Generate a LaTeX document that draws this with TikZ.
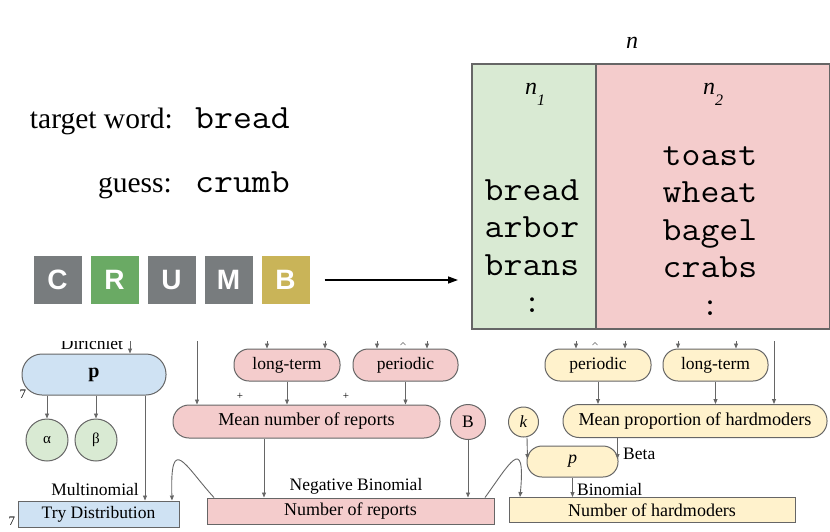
\documentclass[tikz,border=0pt]{standalone}
\usepackage{fontspec}
\setmainfont{Liberation Serif}
\newfontfamily\tilef{Liberation Sans}
\usetikzlibrary{arrows.meta}
\definecolor{wgray}{HTML}{787C7E}
\definecolor{wgreen}{HTML}{6AAA64}
\definecolor{wyellow}{HTML}{C9B458}
\definecolor{lgreen}{HTML}{D9EAD3}
\definecolor{lpink}{HTML}{F4CCCC}
\definecolor{lblue}{HTML}{CFE2F3}
\definecolor{lyellow}{HTML}{FFF2CC}
\definecolor{edgec}{HTML}{666666}
\newcommand\mw[1]{\scalebox{1.08}[1]{#1}}
\tikzset{
  tile/.style={minimum width=48pt, minimum height=48pt, inner sep=0pt, text=white,
    font=\tilef\bfseries\fontsize{28}{28}\selectfont},
  mono/.style={font=\ttfamily\fontsize{34}{34}\selectfont, anchor=base, inner sep=0pt},
  lbl/.style={font=\fontsize{17.5}{20}\selectfont},
  small/.style={font=\fontsize{17.5}{20}\selectfont, inner sep=0pt},
  pill/.style={draw=edgec, line width=1pt, rounded corners=15pt, inner sep=0pt, lbl,
    minimum height=32pt},
  flatbox/.style={draw=edgec, line width=1pt, inner sep=0pt, lbl},
  circ/.style={circle, draw=edgec, line width=1pt, inner sep=0pt},
  arr/.style={draw=edgec, line width=0.9pt, -{Triangle[length=5pt,width=4pt]}},
  bigarr/.style={draw=black, line width=1.4pt, -{Triangle[length=10pt,width=7pt]}},
}
\begin{document}
\begin{tikzpicture}[x=1pt,y=-1pt]
\useasboundingbox (0,0) rectangle (830,531);

% ---------- top panel ----------
\node[anchor=base east, inner sep=0pt, font=\fontsize{29.5}{30}\selectfont] (tw) at (173,128) {target word:};
\node[mono, anchor=base west] (twv) at (195,128) {\mw{bread}};
\node[anchor=base east, inner sep=0pt, font=\fontsize{29.5}{30}\selectfont] (gs) at (172,192) {guess:};
\node[mono, anchor=base west] (gsv) at (195,192) {\mw{crumb}};

\node[tile, fill=wgray]   (tC) at (57.5,280) {C};
\node[tile, fill=wgreen]  (tR) at (114.5,280) {R};
\node[tile, fill=wgray]   (tU) at (171.5,280) {U};
\node[tile, fill=wgray]   (tM) at (228.5,280) {M};
\node[tile, fill=wyellow] (tB) at (285.5,280) {B};

\node[draw=edgec, line width=1.6pt, fill=lgreen, minimum width=124pt, minimum height=265pt,
      anchor=north west, inner sep=0pt] (lcol) at (471,63) {};
\node[draw=edgec, line width=1.6pt, fill=lpink, minimum width=234pt, minimum height=265pt,
      anchor=north west, inner sep=0pt] (rcol) at (595,63) {};

\draw[bigarr] ([xshift=15pt]tB.east) -- ([xshift=-13pt]lcol.west |- tB.east);

\node[font=\itshape\fontsize{24}{24}\selectfont] (n) at (632,43) {n};
\node[font=\itshape\fontsize{24}{24}\selectfont] (n1) at (535,94) {n\raisebox{-0.45em}{\fontsize{16}{16}\selectfont 1}};
\node[font=\itshape\fontsize{24}{24}\selectfont] (n2) at (713,94) {n\raisebox{-0.45em}{\fontsize{16}{16}\selectfont 2}};

\node[mono] (w1) at (532,200) {\mw{bread}};
\node[mono] (w2) at (532,237.5) {\mw{arbor}};
\node[mono] (w3) at (532,275) {\mw{brans}};
\node[mono] (w4) at (532,312.5) {:};
\node[mono] (v1) at (710,165) {\mw{toast}};
\node[mono] (v2) at (710,202.5) {\mw{wheat}};
\node[mono] (v3) at (710,240) {\mw{bagel}};
\node[mono] (v4) at (710,277.5) {\mw{crabs}};
\node[mono] (v5) at (710,315) {:};

% ---------- bottom panel ----------
\begin{scope}
\clip (0,341) rectangle (830,531);

% left (blue)
\node[pill, fill=lblue, minimum width=144pt, minimum height=41pt, rounded corners=20pt,
      font=\bfseries\fontsize{20}{20}\selectfont] (p) at (94,374.5) {p};
\node[circ, fill=lgreen, minimum size=42pt, font=\fontsize{15}{15}\selectfont] (alpha) at (47,440) {α};
\node[circ, fill=lgreen, minimum size=42pt, font=\fontsize{15}{15}\selectfont] (beta) at (96,440) {β};
\node[flatbox, fill=lblue, minimum width=161pt, minimum height=26pt] (try) at (98.5,514) {Try Distribution};
\node[small, anchor=base] (dir) at (92,349) {Dirichlet};
\node[small, anchor=base] (mult) at (95,495) {Multinomial};
\node[font=\fontsize{13}{13}\selectfont, inner sep=0pt] (s1) at (23,394) {7};
\node[font=\fontsize{13}{13}\selectfont, inner sep=0pt] (s2) at (12,521) {7};

\coordinate (dtop) at (130,330);
\draw[arr] (dtop) -- (dtop |- p.north);
\draw[arr] (alpha |- p.south) -- (alpha.north);
\draw[arr] (beta |- p.south) -- (beta.north);
\draw[arr] (145,0 |- p.south) -- (145,0 |- try.north);

% middle (pink)
\node[pill, fill=lpink, minimum width=106pt] (lt) at (287,365) {long-term};
\node[pill, fill=lpink, minimum width=105pt] (per) at (405.5,365) {periodic};
\node[pill, fill=lpink, minimum width=267pt, minimum height=33pt, rounded corners=16pt,
      font=\fontsize{18.2}{20}\selectfont] (mean) at (306.5,421.5) {Mean number of reports};
\node[circ, fill=lpink, minimum size=35pt, lbl] (B) at (468,422) {B};
\node[flatbox, fill=lpink, minimum width=287pt, minimum height=26pt,
      font=\fontsize{18}{20}\selectfont] (nr) at (350.5,511) {Number of reports};
\node[small, anchor=base] (negb) at (356,490) {Negative Binomial};
\node[font=\fontsize{11}{11}\selectfont, inner sep=0pt] (pl1) at (240,396) {+};
\node[font=\fontsize{11}{11}\selectfont, inner sep=0pt] (pl2) at (346,396) {+};

\draw[arr] (197,330) -- (197,0 |- mean.north);
\draw[arr] (267,330) -- (267,0 |- lt.north);
\draw[arr] (325,330) -- (325,0 |- lt.north);
\draw[arr] (377,330) -- (377,0 |- per.north);
\draw[arr] (427,330) -- (427,0 |- per.north);
\draw[edgec, line width=0.6pt] (400.5,345) -- (403,342.5) -- (405.5,345);
\draw[arr] (lt.south) -- (lt.south |- mean.north);
\draw[arr] (per.south) -- (per.south |- mean.north);
\draw[arr] (264,0 |- mean.south) -- (264,0 |- nr.north);
\draw[arr] (B.south) -- (B.south |- nr.north);
\draw[arr] (214,0 |- nr.north) .. controls (185,466) and (170,432) .. (172,0 |- try.north);

% right (yellow)
\node[pill, fill=lyellow, minimum width=106pt] (yper) at (598,365) {periodic};
\node[pill, fill=lyellow, minimum width=105pt] (ylt) at (715.5,365) {long-term};
\node[pill, fill=lyellow, minimum width=264pt, minimum height=33pt, rounded corners=16pt,
      font=\fontsize{18.2}{20}\selectfont] (mp) at (695,421) {Mean proportion of hardmoders};
\node[circ, fill=lyellow, minimum size=30pt, font=\itshape\fontsize{17}{17}\selectfont] (k) at (523.5,422) {k};
\node[pill, fill=lyellow, minimum width=91pt, minimum height=31pt, font=\itshape\fontsize{18}{18}\selectfont] (pp) at (572.5,461.5) {p};
\node[flatbox, fill=lyellow, minimum width=286pt, minimum height=25pt,
      font=\fontsize{18}{20}\selectfont] (nh) at (652,510) {Number of hardmoders};
\node[small, anchor=base west] (beta2) at (623,459) {Beta};
\node[small, anchor=base west] (binom) at (577,495) {Binomial};

\draw[arr] (576,330) -- (576,0 |- yper.north);
\draw[arr] (625,330) -- (625,0 |- yper.north);
\draw[edgec, line width=0.6pt] (592.5,345) -- (595,342.5) -- (597.5,345);
\draw[arr] (678,330) -- (678,0 |- ylt.north);
\draw[arr] (736,330) -- (736,0 |- ylt.north);
\draw[arr] (774,330) -- (774,0 |- mp.north);
\draw[arr] (yper.south) -- (yper.south |- mp.north);
\draw[arr] (ylt.south) -- (ylt.south |- mp.north);
\coordinate (kin) at (527.5,459);
\coordinate (bin) at (617.5,459);
\draw[arr] ([xshift=3.5pt]k.south) -- (kin);
\draw[arr] (617.5,0 |- mp.south) -- (bin);
\draw[arr] (pp.south) -- (pp.south |- nh.north);
\draw[arr] (485,0 |- nr.north) .. controls (508,466) and (526,432) .. (520,0 |- nh.north);
\end{scope}
\end{tikzpicture}
\end{document}
